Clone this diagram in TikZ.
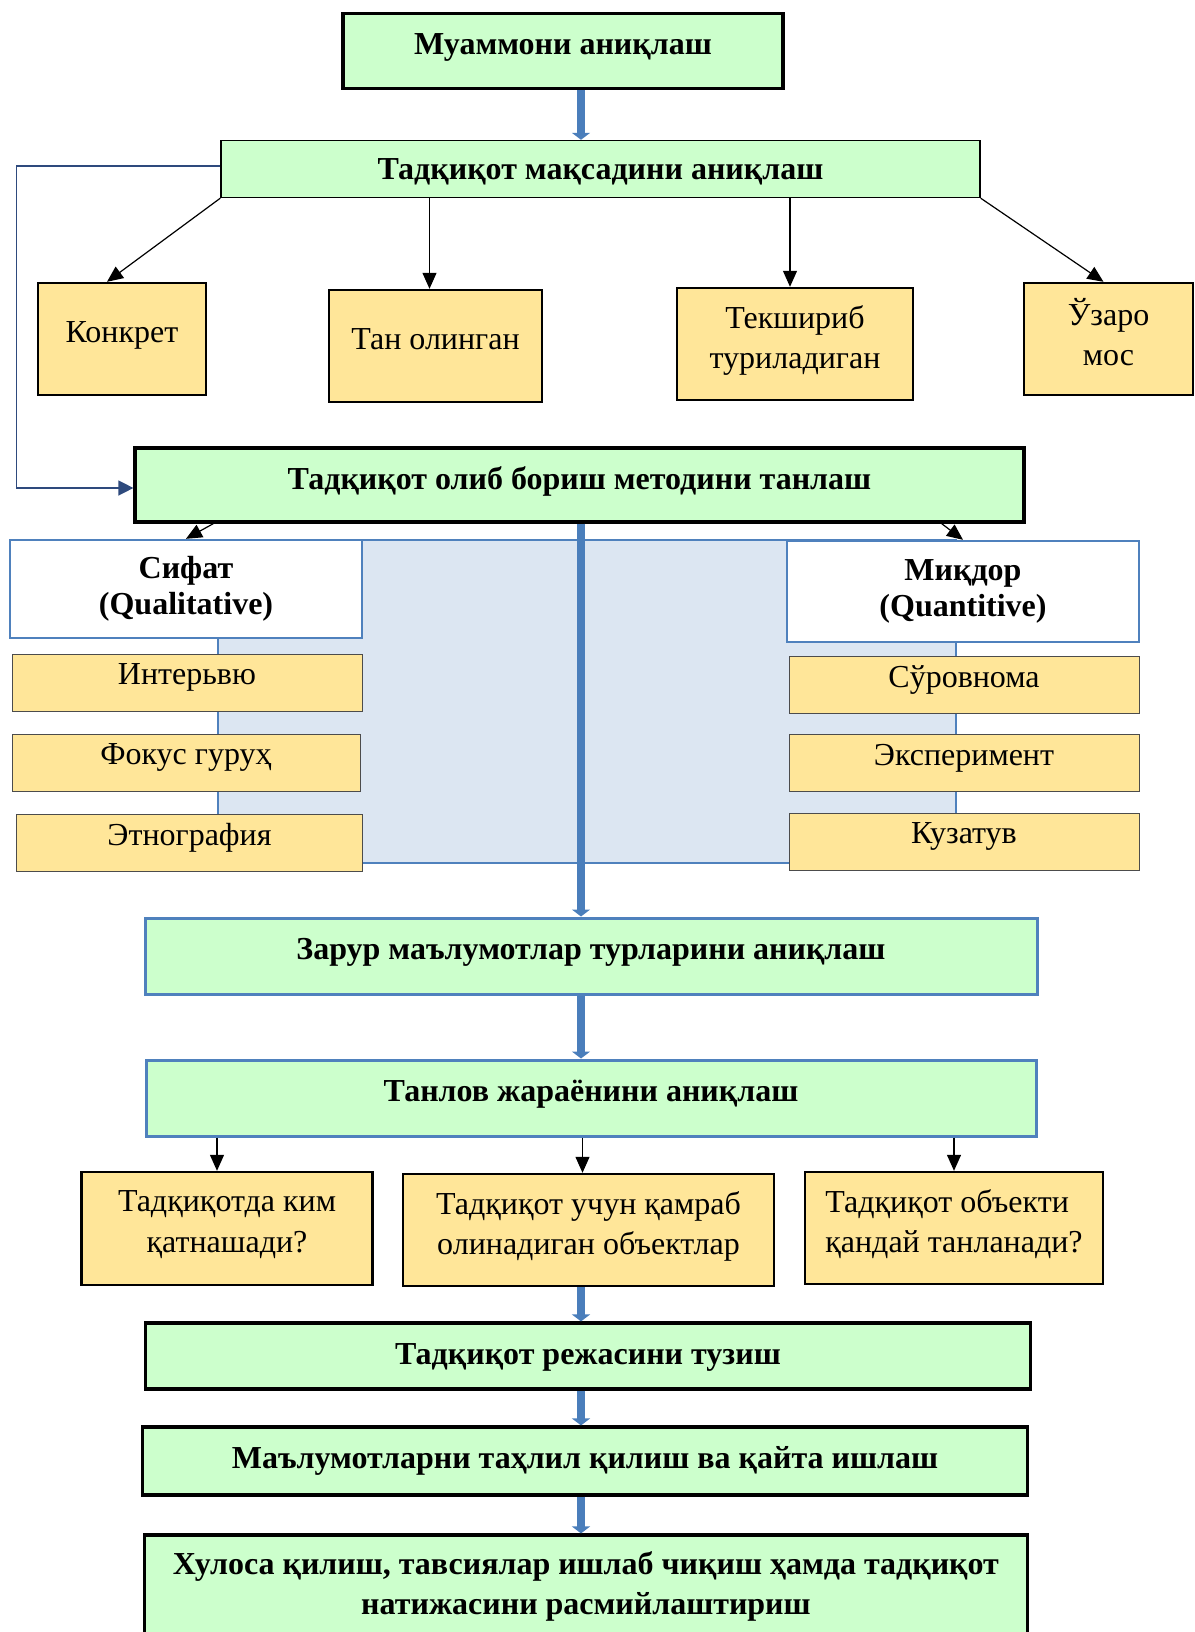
\documentclass[tikz,border=0pt]{standalone}
\usepackage{fontspec}
\setmainfont{Liberation Serif}
\usetikzlibrary{positioning,arrows.meta}
\definecolor{boxgreen}{HTML}{CCFFCC}
\definecolor{boxyellow}{HTML}{FFE699}
\definecolor{panelblue}{HTML}{DCE6F2}
\definecolor{edgeblue}{HTML}{4F81BD}
\definecolor{flowblue}{HTML}{4A7EBB}
\definecolor{loopnavy}{HTML}{2E4A7D}

\begin{document}
\begin{tikzpicture}[x=0.5pt,y=-0.5pt]
	
	\tikzset{
		stage/.style={draw=black, line width=1.5pt, fill=boxgreen,
			inner sep=0pt, align=center, text depth=7pt,
			font=\fontsize{16}{20}\selectfont\bfseries},
		bluestage/.style={stage, draw=edgeblue},
		aim/.style={draw=black, line width=1.2pt, fill=boxyellow,
			inner sep=0pt, align=center, text depth=7pt,
			font=\fontsize{16}{20.3}\selectfont},
		method/.style={draw=edgeblue, line width=1.2pt, fill=white,
			inner sep=0pt, align=center,
			font=\fontsize{16}{18}\selectfont\bfseries},
		tool/.style={draw=black!70, line width=0.5pt, fill=boxyellow,
			inner sep=0pt, minimum height=28.5pt, minimum width=175pt,
			text depth=8pt, font=\fontsize{16}{20}\selectfont},
		panel/.style={draw=edgeblue, line width=1pt, fill=panelblue, inner sep=0pt},
		flow/.style={draw=flowblue, line width=3.6pt,
			-{Triangle[length=3.5pt,width=9pt]}},
		branch/.style={draw=black, line width=0.6pt,
			-{Triangle[length=8pt,width=7pt]}},
		backlink/.style={draw=loopnavy, line width=0.7pt,
			-{Triangle[length=7.5pt,width=7.5pt]}}
	}
	
	\useasboundingbox (0,0) rectangle (1194,1632);
	\clip (0,0) rectangle (1194,1632);
	
	% background of the two method columns
	\node[panel, minimum width=369pt, minimum height=161.5pt] (panel) at (587,701.5) {};
	\coordinate (spine) at (581,0);
	
	\node[stage, line width=1.6pt, minimum width=220pt, minimum height=37.5pt] (prob) at (563,51) {Муаммони аниқлаш};
	\node[stage, line width=0.7pt, text depth=0pt, minimum width=379.5pt, minimum height=28.5pt] (goal) at (600.5,169) {Тадқиқот мақсадини аниқлаш};
	
	\node[aim, minimum width=84pt, minimum height=56pt] (konk) at (122,339) {Конкрет};
	\node[aim, minimum width=106.5pt, minimum height=56pt] (tan) at (435.5,346) {Тан олинган};
	\node[aim, minimum width=118pt, minimum height=56pt] (tek) at (795,344) {Текшириб\\туриладиган};
	\node[aim, minimum width=84.5pt, minimum height=56pt] (uzaro) at (1108.5,339) {Ўзаро\\мос};
	
	\node[stage, line width=1.6pt, minimum width=444.5pt, minimum height=37pt] (method) at (579.5,485) {Тадқиқот олиб бориш методини танлаш};
	
	\node[method, minimum width=176pt, minimum height=49pt] (sifat) at (186,589) {Сифат\\(Qualitative)};
	\node[method, minimum width=176pt, minimum height=50.5pt] (miqdor) at (963,591.5) {Миқдор\\(Quantitive)};
	
	\node[tool] (interv) at (187,682.5) {Интерьвю};
	\node[tool, minimum width=174pt] (fokus) at (186,762.5) {Фокус гуруҳ};
	\node[tool, minimum width=173pt] (etno) at (189.5,842.5) {Этнография};
	\node[tool] (surov) at (964,684.5) {Сўровнома};
	\node[tool] (eksp) at (964,762.5) {Эксперимент};
	\node[tool] (kuzat) at (964,841.5) {Кузатув};
	
	\node[bluestage, minimum width=446pt, minimum height=38pt] (data) at (591,956) {Зарур маълумотлар турларини аниқлаш};
	\node[bluestage, minimum width=445pt, minimum height=38pt] (sample) at (591,1098) {Танлов жараёнини аниқлаш};
	
	\node[aim, minimum width=145.5pt, minimum height=56.5pt] (kim) at (227,1228.5) {Тадқиқотда ким\\қатнашади?};
	\node[aim, minimum width=185.5pt, minimum height=56pt] (obj) at (588.5,1230) {Тадқиқот учун қамраб\\олинадиган объектлар};
	\node[aim, align=left, minimum width=149pt, minimum height=56pt] (qanday) at (954,1228) {Тадқиқот объекти\\қандай танланади?};
	
	\node[stage, line width=1.6pt, text depth=2pt, minimum width=442.5pt, minimum height=33pt] (plan) at (588,1356) {Тадқиқот режасини тузиш};
	\node[stage, line width=1.6pt, text depth=4pt, minimum width=442.5pt, minimum height=34pt] (anal) at (585,1461) {Маълумотларни таҳлил қилиш ва қайта ишлаш};
	\node[stage, line width=1.6pt, minimum width=441.5pt, minimum height=62.5pt, text depth=14pt] (concl) at (586,1597.5) {Хулоса қилиш, тавсиялар ишлаб чиқиш ҳамда тадқиқот\\натижасини расмийлаштириш};
	
	\draw[flow] (prob.south -| spine) -- (goal.north -| spine);
	\draw[branch] (goal.south west) -- ([xshift=-7.5pt]konk.north);
	\draw[branch] ([xshift=-3pt]tan.north |- goal.south) -- ([xshift=-3pt]tan.north);
	\draw[branch] ([xshift=-2.5pt]tek.north |- goal.south) -- ([xshift=-2.5pt]tek.north);
	\draw[branch] (goal.south east) -- ([xshift=-2.5pt]uzaro.north);
	\draw[backlink] ([yshift=1.5pt]goal.west) -- ++(-204,0) |- ([yshift=-1.5pt]method.west);
	
	\draw[branch] ([xshift=40pt]method.south west) -- (sifat.north);
	\draw[branch] ([xshift=-42pt]method.south east) -- (miqdor.north);
	\draw[flow] (method.south -| spine) -- (data.north -| spine);
	\draw[flow] (data.south -| spine) -- (sample.north -| spine);
	
	\draw[branch] ([xshift=-5pt]kim.north |- sample.south) -- ([xshift=-5pt]kim.north);
	\draw[branch] ([xshift=-3pt]obj.north |- sample.south) -- ([xshift=-3pt]obj.north);
	\draw[branch] (qanday.north |- sample.south) -- (qanday.north);
	
	\draw[flow] (obj.south -| spine) -- (plan.north -| spine);
	\draw[flow] (plan.south -| spine) -- (anal.north -| spine);
	\draw[flow] (anal.south -| spine) -- (concl.north -| spine);
	
\end{tikzpicture}
\end{document}
